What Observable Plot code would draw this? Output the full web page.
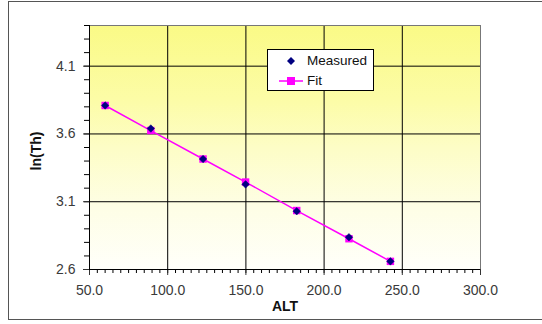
<!DOCTYPE html>
<html>
<head>
<meta charset="utf-8">
<script src="https://cdn.jsdelivr.net/npm/d3@7"></script>
<script src="https://cdn.jsdelivr.net/npm/@observablehq/plot@0.6"></script>
<style>
  html, body { margin: 0; padding: 0; background: #fff; }
  #wrap { position: relative; width: 542px; height: 324px; overflow: hidden; font-family: "Liberation Sans", Arial, sans-serif; }
  #border { position: absolute; left: 8px; top: 1px; width: 560px; height: 319px; border: 1.5px solid #555; box-sizing: border-box; pointer-events: none; }
  #legend { position: absolute; left: 267px; top: 49px; width: 107px; height: 42px; background: #fff; border: 1px solid #000; box-sizing: border-box; font-size: 13.5px; color: #111; }
  #legend .row { position: absolute; left: 0; height: 20px; width: 105px; }
  #legend svg { position: absolute; left: 10px; top: 0; }
  #legend span { position: absolute; left: 39px; top: 2px; }
  #ylabel { position: absolute; left: 6px; top: 141px; width: 60px; height: 20px; line-height: 20px; text-align: center; font-weight: bold; font-size: 14px; color: #111; transform: rotate(-90deg); transform-origin: 50% 50%; }
</style>
</head>
<body>
<div id="wrap">
  <div id="chart"></div>
  <div id="border"></div>
  <div id="ylabel">ln(Th)</div>
  <div id="legend">
    <div class="row" style="top:1px">
      <svg width="26" height="20"><path d="M13,6 L17,10 L13,14 L9,10 Z" fill="#000080"/></svg>
      <span>Measured</span>
    </div>
    <div class="row" style="top:21px">
      <svg width="26" height="20"><line x1="1" y1="10" x2="25" y2="10" stroke="#ff00ff" stroke-width="1.5"/><rect x="9" y="6" width="8" height="8" fill="#ff00ff"/></svg>
      <span>Fit</span>
    </div>
  </div>
</div>
<script>
const alt = [60.0, 89.2, 122.6, 149.8, 182.5, 215.9, 242.4];
const measured = [3.81, 3.64, 3.415, 3.228, 3.03, 2.838, 2.66];
const fit = [3.81, 3.625, 3.415, 3.245, 3.035, 2.827, 2.66];
const xTicks = [50, 100, 150, 200, 250, 300];
const yTicks = [2.6, 3.1, 3.6, 4.1];

const data = alt.map((a, i) => ({alt: a, measured: measured[i], fit: fit[i]}));
const xMinor = d3.range(50, 301, 5);
const yMinor = d3.range(0, 19).map(k => +(2.6 + k * 0.1).toFixed(1));

const chart = Plot.plot({
  width: 542,
  height: 324,
  marginLeft: 89,
  marginRight: 62,
  marginTop: 25,
  marginBottom: 55,
  style: {fontFamily: "Liberation Sans, Arial, sans-serif", fontSize: "14px", color: "#333", background: "transparent", overflow: "visible"},
  x: {domain: [50, 300]},
  y: {domain: [2.6, 4.4]},
  marks: [
    Plot.frame({fill: "url(#bggrad)", stroke: null}),
    Plot.gridX(xTicks.slice(1, -1), {stroke: "#000", strokeOpacity: 1, strokeWidth: 1}),
    Plot.gridY(yTicks.slice(1), {stroke: "#000", strokeOpacity: 1, strokeWidth: 1}),
    Plot.frame({stroke: "#777", strokeWidth: 1}),
    Plot.axisX(xMinor, {tickSize: 4, text: null, stroke: "#000", label: null}),
    Plot.axisX(xTicks, {tickSize: 6, tickFormat: d => d.toFixed(1), tickPadding: 10, fontSize: 14, fill: "#3a3a3a", label: null}),
    Plot.axisY(yMinor, {tickSize: 5, text: null, stroke: "#000", label: null}),
    Plot.axisY(yTicks, {tickSize: 6, tickFormat: d => d.toFixed(1), tickPadding: 8, fontSize: 14, fill: "#3a3a3a", label: null}),
    Plot.ruleY([2.6], {stroke: "#000", strokeWidth: 1}),
    Plot.ruleX([50], {stroke: "#000", strokeWidth: 1}),
    Plot.line(data, {x: "alt", y: "fit", stroke: "#ff00ff", strokeWidth: 1.5}),
    Plot.dot(data, {x: "alt", y: "fit", symbol: "square", r: 4.2, fill: "#ff00ff", stroke: null}),
    Plot.dot(data, {x: "alt", y: "measured", symbol: "diamond2", r: 3.4, fill: "#000080", stroke: "#000080", strokeWidth: 0.5}),
    Plot.text(["ALT"], {frameAnchor: "bottom", dy: 41, fontWeight: "bold", fontSize: 14, fill: "#111"})
  ]
});

const ns = "http://www.w3.org/2000/svg";
const defs = document.createElementNS(ns, "defs");
defs.innerHTML = '<linearGradient id="bggrad" x1="0" y1="0" x2="0" y2="1">' +
  '<stop offset="0" stop-color="#fafa86"/>' +
  '<stop offset="0.3" stop-color="#fcfca6"/>' +
  '<stop offset="0.5" stop-color="#fdfdc6"/>' +
  '<stop offset="0.75" stop-color="#fefee6"/>' +
  '<stop offset="1" stop-color="#fffffa"/>' +
  '</linearGradient>';
chart.insertBefore(defs, chart.firstChild);
document.getElementById("chart").appendChild(chart);
</script>
</body>
</html>
